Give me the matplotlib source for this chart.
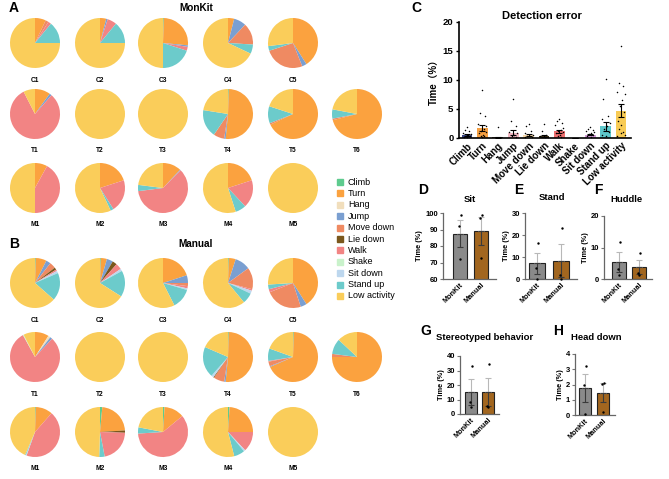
import numpy as np
import matplotlib.pyplot as plt
from matplotlib.patches import Rectangle

plt.rcParams['font.family'] = ['Liberation Sans', 'Noto Sans CJK SC', 'DejaVu Sans']

W, H = 669, 479
fig = plt.figure(figsize=(W / 100, H / 100), dpi=100)


def box(x0, y0, x1, y1):
    # pixel box (y from top) -> figure fraction
    return [x0 / W, 1 - y1 / H, (x1 - x0) / W, (y1 - y0) / H]


def ftext(x, y, s, **kw):
    fig.text(x / W, 1 - y / H, s, **kw)


# ---------------- data ----------------
behaviors = ['Climb', 'Turn', 'Hang', 'Jump', 'Move down', 'Lie down',
             'Walk', 'Shake', 'Sit down', 'Stand up', 'Low activity']
pie_colors = ['#5ECB8E', '#FBA23F', '#F1DEBC', '#7A9FD1', '#EF8A62', '#7A571C',
              '#F28484', '#C9F2CB', '#BDD7EE', '#6CCBCB', '#FACD5A']
monkeys = ['C1', 'C2', 'C3', 'C4', 'C5', 'T1', 'T2', 'T3', 'T4', 'T5', 'T6',
           'M1', 'M2', 'M3', 'M4', 'M5']

# MonKit time budgets (%), order as in behaviors
mk_c1 = [0, 7, 0, 0, 2, 0, 2, 0, 0, 14, 75]
mk_c2 = [0, 4, 0, 1, 0, 0, 6, 0, 0, 14, 75]
mk_c3 = [0.5, 26, 0, 1, 0, 0, 2.5, 0, 0, 20, 50]
mk_c4 = [0, 4, 0, 8, 14, 0, 0, 0, 0, 6, 68]
mk_c5 = [0, 41, 0, 3, 26, 0, 0, 0, 0, 3, 27]
mk_t1 = [0, 10, 0, 1.5, 0, 0, 81, 0, 0, 0, 7.5]
mk_t2 = [0, 0, 0, 0, 0, 0, 0, 0, 0, 0, 100]
mk_t3 = [0, 0, 0, 0, 0, 0, 0, 0, 0, 0, 100]
mk_t4 = [0.5, 51, 0, 1, 7, 0, 0, 0, 0, 18, 22.5]
mk_t5 = [0, 68, 0, 0, 1, 0, 0, 0, 0, 11, 20]
mk_t6 = [0, 71, 0, 0, 1, 0, 0, 0, 0, 6, 22]
mk_m1 = [0, 8, 0, 0, 0, 0, 42, 0, 0, 0, 50]
mk_m2 = [0, 20, 0, 0, 0, 0, 21, 0, 0, 2, 57]
mk_m3 = [0, 12, 0, 0.5, 0, 0, 60.5, 0, 0, 4, 23]
mk_m4 = [0, 20, 0, 0, 0, 0, 18, 0, 0, 7, 55]
mk_m5 = [0, 0, 0, 0, 0, 0, 0, 0, 0, 0, 100]

# Manual time budgets (%)
mn_c1 = [0.5, 7, 0, 3, 4, 1.5, 1, 0, 1.5, 18, 63.5]
mn_c2 = [0.5, 4, 0, 4, 0, 3, 4, 0, 1.5, 17, 66]
mn_c3 = [0, 20, 0, 5, 2, 0, 1.5, 0, 1, 13, 57.5]
mn_c4 = [0.5, 4.5, 0, 10, 14, 0, 1, 0, 2, 7, 61]
mn_c5 = [0, 41, 0, 4, 24, 0, 2, 0, 0, 3, 26]
mn_t1 = [0, 9, 1.5, 1.5, 0, 0, 80, 0.5, 0, 0, 7.5]
mn_t2 = [0, 0, 0, 0, 0, 0, 0, 0, 0, 0, 100]
mn_t3 = [0, 0, 0, 0, 0, 0, 0, 0, 0, 0, 100]
mn_t4 = [0.5, 51, 0, 1, 7, 0.5, 0, 0, 1.5, 20, 18.5]
mn_t5 = [0.5, 68, 0, 0.5, 3, 0, 0.5, 0, 0, 8, 19.5]
mn_t6 = [0, 75, 0, 0, 2, 0, 0, 0, 0, 10, 13]
mn_m1 = [0.5, 11, 0, 0, 0, 0, 44, 0, 0.5, 0.5, 43.5]
mn_m2 = [1.5, 22.5, 0, 0, 0, 1.5, 21.5, 0, 0, 3.5, 49.5]
mn_m3 = [1, 13, 0, 0, 0, 0, 60, 0, 0, 4, 22]
mn_m4 = [1, 24, 0, 0, 0, 0, 13, 0, 1, 7, 54]
mn_m5 = [0, 0, 0, 0, 0, 0, 0, 0, 0, 0, 100]

monkit_pies = [mk_c1, mk_c2, mk_c3, mk_c4, mk_c5, mk_t1, mk_t2, mk_t3, mk_t4,
               mk_t5, mk_t6, mk_m1, mk_m2, mk_m3, mk_m4, mk_m5]
manual_pies = [mn_c1, mn_c2, mn_c3, mn_c4, mn_c5, mn_t1, mn_t2, mn_t3, mn_t4,
               mn_t5, mn_t6, mn_m1, mn_m2, mn_m3, mn_m4, mn_m5]

# Detection error per monkey (%), panel C
err_climb = [1.9, 1.4, 1.2, 0.9, 0.7, 0.5, 0.4, 0.3, 0.2, 0.1, 0, 0, 0, 0, 0, 0]
err_turn = [8.3, 4.3, 3.8, 2.4, 2.0, 1.6, 1.2, 1.0, 0.8, 0.6, 0.4, 0.3, 0.2, 0, 0, 0]
err_hang = [1.9, 0, 0, 0, 0, 0, 0, 0, 0, 0, 0, 0, 0, 0, 0, 0]
err_jump = [6.8, 3.0, 2.0, 1.1, 0.8, 0.5, 0.3, 0.2, 0, 0, 0, 0, 0, 0, 0, 0]
err_move = [2.4, 2.0, 1.2, 0.8, 0.6, 0.4, 0.3, 0.2, 0.1, 0, 0, 0, 0, 0, 0, 0]
err_lie = [2.4, 1.2, 0.6, 0.3, 0.2, 0.1, 0, 0, 0, 0, 0, 0, 0, 0, 0, 0]
err_walk = [3.3, 3.0, 2.6, 2.2, 1.8, 1.4, 1.2, 1.0, 0.8, 0.6, 0.4, 0.2, 0, 0, 0, 0]
err_shake = [0] * 16
err_sitdown = [1.9, 1.6, 1.4, 1.2, 1.0, 0.8, 0.7, 0.5, 0.3, 0.2, 0, 0, 0, 0, 0, 0]
err_standup = [10.2, 6.7, 3.8, 3.2, 2.5, 2.0, 1.5, 1.0, 0.6, 0.3, 0, 0, 0, 0, 0, 0]
err_low = [15.8, 9.4, 9.0, 8.0, 7.5, 6.5, 5.5, 4.5, 3.0, 2.2, 1.5, 1.0, 0.8, 0.5, 0.3, 0]
err_all = [err_climb, err_turn, err_hang, err_jump, err_move, err_lie, err_walk,
           err_shake, err_sitdown, err_standup, err_low]
err_colors = ['#3A4683', '#F6A042', '#6B5843', '#F3B9C3', '#F8D9A8', '#3E3015',
              '#EE6F6F', '#CCCCCC', '#D49BD9', '#5DC7CA', '#F8CB55']
jitter = [0, -0.16, 0.16, -0.26, 0.26, 0.08, -0.08, 0.21, -0.21, 0.03,
          -0.12, 0.12, -0.03, 0.23, -0.23, 0.0]

groups = ['MonKit', 'Manual']
sit_mk, sit_mn = [98.5, 92, 72], [98.5, 97, 72.5]
stand_mk, stand_mn = [16.3, 5, 0], [23.3, 1.8, 0]
huddle_mk, huddle_mn = [11.7, 3.1, 1.2], [8.1, 1.8, 1.2]
stereo_mk, stereo_mn = [32.8, 8.5, 4.5], [34.6, 5.8, 5.0]
head_mk, head_mn = [3.2, 2.0, 0.05], [2.1, 2.05, 0.2]

# ---------------- pies ----------------
pie_x = [35, 100, 163, 228, 293, 357]
pie_pos = [(0, 0), (0, 1), (0, 2), (0, 3), (0, 4),
           (1, 0), (1, 1), (1, 2), (1, 3), (1, 4), (1, 5),
           (2, 0), (2, 1), (2, 2), (2, 3), (2, 4)]
R = 25


def draw_pies(data, row_y):
    for name, vals, (r, c) in zip(monkeys, data, pie_pos):
        cx, cy = pie_x[c], row_y[r]
        ax = fig.add_axes(box(cx - R, cy - R, cx + R, cy + R))
        ax.pie(vals, colors=pie_colors, startangle=90, counterclock=False,
               wedgeprops=dict(linewidth=0))
        ax.set_xlim(-1, 1)
        ax.set_ylim(-1, 1)
        ftext(cx, cy + 37, name, fontsize=4.8, fontweight='bold',
              ha='center', va='center')


draw_pies(monkit_pies, [43, 114, 188])
draw_pies(manual_pies, [283, 357, 432])

ftext(9, 8, 'A', fontsize=10, fontweight='bold', va='center')
ftext(196, 8, 'MonKit', fontsize=7.2, fontweight='bold', ha='center', va='center')
ftext(9, 244, 'B', fontsize=10, fontweight='bold', va='center')
ftext(196, 244, 'Manual', fontsize=7.2, fontweight='bold', ha='center', va='center')

# legend
for i, (lab, col) in enumerate(zip(behaviors, pie_colors)):
    y = 182 + i * 11.4
    fig.patches.append(Rectangle(((337) / W, 1 - (y + 3) / H), 6 / W, 6 / H,
                                 color=col, transform=fig.transFigure, figure=fig))
    ftext(348, y, lab, fontsize=6.5, va='center')

# ---------------- panel C ----------------
axc = fig.add_axes(box(459, 22, 631, 138))
xs = np.arange(len(behaviors))
means = [np.mean(v) for v in err_all]
sems = [np.std(v, ddof=1) / np.sqrt(len(v)) for v in err_all]
axc.bar(xs, means, width=0.7, color=err_colors, zorder=1)
for i, v in enumerate(err_all):
    pts = [(jitter[k], val) for k, val in enumerate(v) if val > 0]
    if pts:
        px = [i + p[0] for p in pts]
        py = [p[1] for p in pts]
        axc.scatter(px, py, s=1.2, color='black', zorder=3, linewidths=0)
axc.errorbar(xs, means, yerr=sems, fmt='none', ecolor='black', elinewidth=0.8,
             capsize=2, capthick=0.8, zorder=4)
axc.set_xlim(-0.52, 10.65)
axc.set_ylim(0, 20)
axc.set_yticks([0, 5, 10, 15, 20])
axc.set_xticks(xs)
axc.set_xticklabels(behaviors, rotation=45, ha='right', rotation_mode='anchor',
                    fontsize=7, fontweight='bold')
for t in axc.get_yticklabels():
    t.set_fontsize(6.8)
    t.set_fontweight('bold')
axc.tick_params(axis='y', length=2.5, width=1, pad=1.5)
axc.tick_params(axis='x', length=0, pad=2)
for s in ['top', 'right']:
    axc.spines[s].set_visible(False)
for s in ['left', 'bottom']:
    axc.spines[s].set_linewidth(1.2)
axc.set_ylabel('Time（%）', fontsize=7, fontweight='bold', labelpad=3)
ftext(411, 8, 'C', fontsize=10, fontweight='bold', va='center')
ftext(542, 16, 'Detection error', fontsize=8, fontweight='bold',
      ha='center', va='center')


# ---------------- panels D-H ----------------
def small_panel(px, xlim, ylim, yticks, mk, mn, title, tx, ty, letter, lx, ly):
    ax = fig.add_axes(box(*px))
    vals = [mk, mn]
    m = [np.mean(v) for v in vals]
    se = [np.std(v, ddof=1) / np.sqrt(len(v)) for v in vals]
    ax.bar([0, 1], m, width=0.68, color=['#8A8A8A', '#A2661F'],
           edgecolor='#222222', linewidth=0.8, zorder=1)
    ax.errorbar([0, 1], m, yerr=[[0, 0], se], fmt='none', ecolor='#B8B8B8',
                elinewidth=0.8, capsize=2.5, capthick=0.8, zorder=2)
    ax.errorbar([0, 1], m, yerr=[se, [0, 0]], fmt='none', ecolor='#3A3A3A',
                elinewidth=0.8, capsize=2.5, capthick=0.8, zorder=2)
    offs = [0.05, -0.05, 0.0]
    for i, v in enumerate(vals):
        ax.scatter([i + o for o in offs], v, s=3, color='black', zorder=3,
                   linewidths=0, clip_on=False)
    ax.set_xlim(*xlim)
    ax.set_ylim(*ylim)
    ax.set_yticks(yticks)
    ax.set_xticks([0, 1])
    ax.set_xticklabels(groups, rotation=45, ha='right', rotation_mode='anchor',
                       fontsize=5.3, fontweight='bold')
    for t in ax.get_yticklabels():
        t.set_fontsize(5.5)
        t.set_fontweight('bold')
    ax.tick_params(axis='y', length=2, width=0.8, pad=1.5, color='#777777')
    ax.tick_params(axis='x', length=0, pad=2)
    for s in ['top', 'right']:
        ax.spines[s].set_visible(False)
    for s in ['left', 'bottom']:
        ax.spines[s].set_color('#666666')
        ax.spines[s].set_linewidth(0.9)
    ax.set_ylabel('Time (%)', fontsize=5.3, fontweight='bold', labelpad=1.5)
    ftext(tx, ty, title, fontsize=6.8, fontweight='bold', ha='center', va='center')
    ftext(lx, ly, letter, fontsize=10, fontweight='bold', va='center')


small_panel((443, 213, 496, 279), (-0.81, 1.71), (60, 100), [60, 70, 80, 90, 100],
            sit_mk, sit_mn, 'Sit', 470, 199, 'D', 418, 190)
small_panel((525, 213, 577, 279), (-0.5, 1.67), (0, 30), [0, 10, 20, 30],
            stand_mk, stand_mn, 'Stand', 552, 197, 'E', 514, 190)
small_panel((604, 216, 652, 279), (-0.75, 1.65), (0, 20), [0, 10, 20],
            huddle_mk, huddle_mn, 'Huddle', 626, 199, 'F', 594, 190)
small_panel((460, 356, 499, 414), (-0.65, 1.65), (0, 40), [0, 10, 20, 30, 40],
            stereo_mk, stereo_mn, 'Stereotyped behavior', 485, 338, 'G', 420, 331)
small_panel((575, 354, 615, 415), (-0.55, 1.67), (0, 4), [0, 1, 2, 3, 4],
            head_mk, head_mn, 'Head down', 596, 338, 'H', 553, 331)

fig.savefig('out.png', dpi=100)
